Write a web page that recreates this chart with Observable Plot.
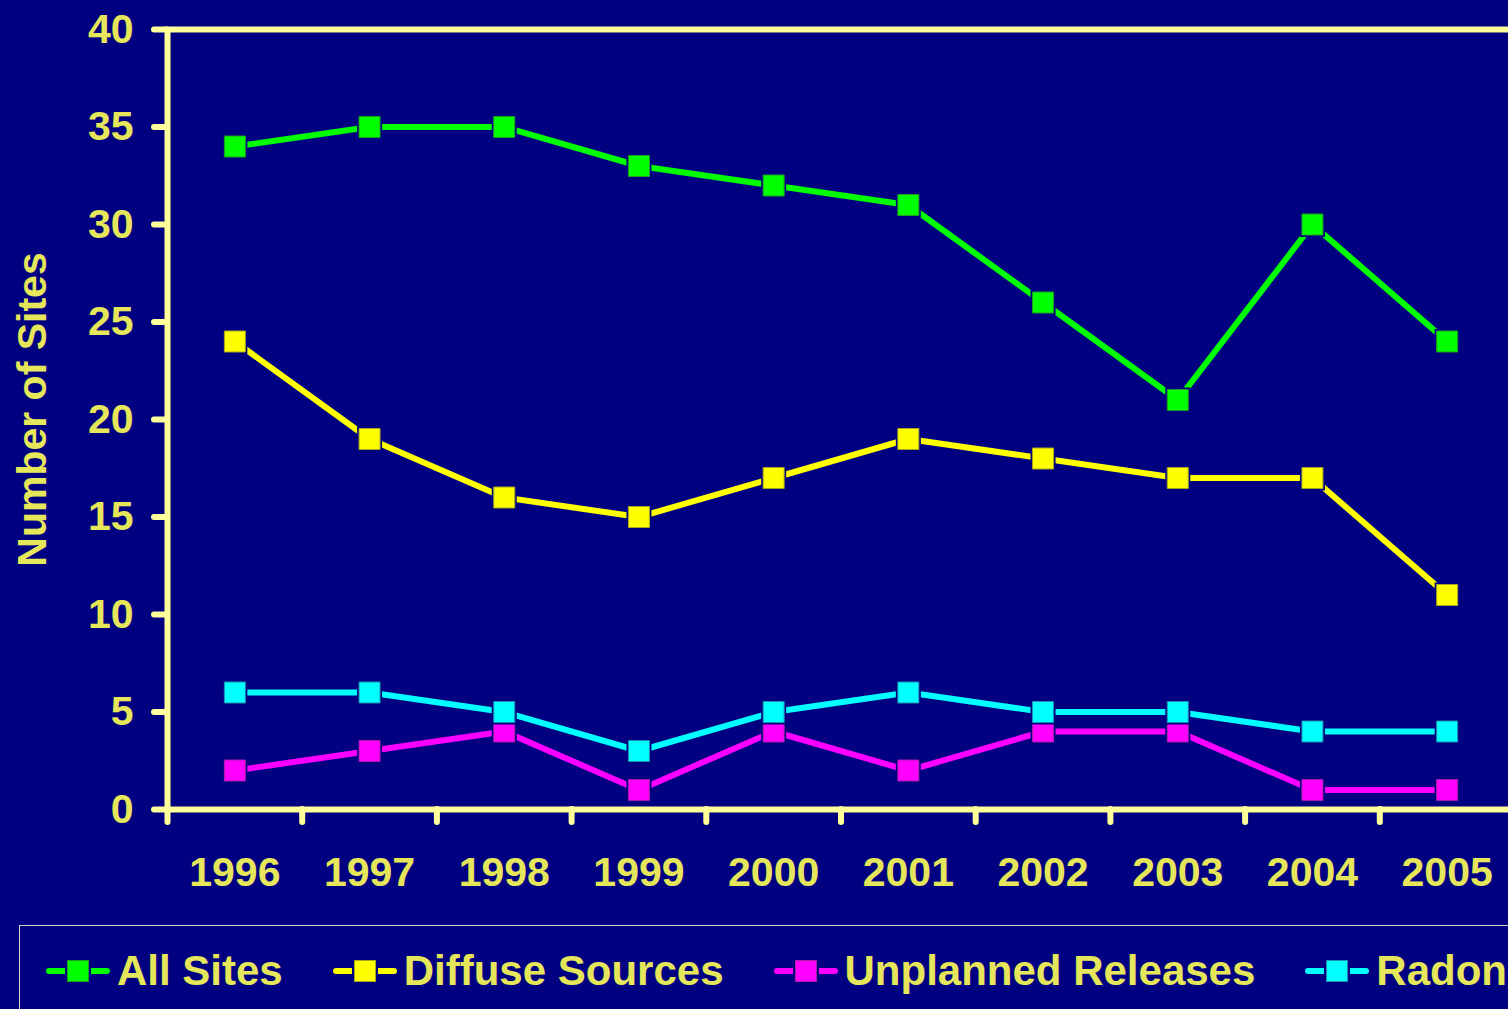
<!DOCTYPE html>
<html>
<head>
<meta charset="utf-8">
<script src="https://cdn.jsdelivr.net/npm/d3@7"></script>
<script src="https://cdn.jsdelivr.net/npm/@observablehq/plot@0.6"></script>
<style>
  html, body { margin: 0; padding: 0; background: #000080; }
  #wrap {
    position: relative; width: 1508px; height: 1009px; overflow: hidden;
    background: #000080; font-family: "Liberation Sans", Arial, sans-serif;
  }
  #chart { position: absolute; left: 0; top: 0; }
  #legend {
    position: absolute; left: 19px; top: 925px; width: 1700px; height: 92px;
    border: 1px solid #d2d2c4; box-sizing: border-box;
    display: flex; align-items: center; gap: 50px; padding-left: 26px;
  }
  .item { display: flex; align-items: center; gap: 7px; white-space: nowrap;
    font-size: 42px; font-weight: bold; color: #e6e65a; line-height: 42px; }
  .item svg { display: block; }
</style>
</head>
<body>
<div id="wrap">
  <div id="chart"></div>
  <div id="legend"></div>
</div>
<script>
// Number of sites per year, by source category
const years = ["1996", "1997", "1998", "1999", "2000", "2001", "2002", "2003", "2004", "2005"];
const allSites = [34, 35, 35, 33, 32, 31, 26, 21, 30, 24];
const diffuseSources = [24, 19, 16, 15, 17, 19, 18, 17, 17, 11];
const unplannedReleases = [2, 3, 4, 1, 4, 2, 4, 4, 1, 1];
const radon = [6, 6, 5, 3, 5, 6, 5, 5, 4, 4];

const seriesNames = ["All Sites", "Diffuse Sources", "Unplanned Releases", "Radon"];
const seriesValues = [allSites, diffuseSources, unplannedReleases, radon];
const seriesColors = ["#00ff00", "#ffff00", "#ff00ff", "#00ffff"];
const seriesEdges = ["#1f9f1f", "#a6a61f", "#a61fa6", "#1f8fb0"];
const yTicks = [0, 5, 10, 15, 20, 25, 30, 35, 40];

const bg = "#000080";
const axisColor = "#ffff99";
const textColor = "#e6e65a";
const font = "'Liberation Sans', Arial, sans-serif";

const series = seriesNames.map((name, i) => ({
  name,
  color: seriesColors[i],
  edge: seriesEdges[i],
  rows: years.map((year, j) => ({ year, value: seriesValues[i][j], series: name }))
}));

const width = 1508;
const marginLeft = 167;
const marginRight = -6;   // plot area runs just past the right edge
const step = (width - marginRight - marginLeft) / years.length;

// square side s  ->  Plot dot radius s / sqrt(pi)
const rOf = (side) => side / Math.sqrt(Math.PI);

const chart = Plot.plot({
  width,
  height: 915,
  marginLeft,
  marginRight,
  marginTop: 29,
  marginBottom: 106,
  style: { background: bg, color: textColor, fontFamily: font, overflow: "visible" },
  x: { type: "band", domain: years, padding: 0, round: false, label: null },
  y: { domain: [0, 40], label: null },
  marks: [
    // tick marks between year categories
    Plot.axisX({ ticks: years, tickSize: 13, fill: "none", dx: -step / 2,
      stroke: axisColor, strokeWidth: 6, strokeLinecap: "round", label: null }),
    // year labels
    Plot.axisX({ tickSize: 0, tickPadding: 47, fontSize: 41, fontWeight: "bold",
      fill: textColor, label: null }),
    Plot.axisY({ ticks: yTicks, tickSize: 13, tickPadding: 21, fontSize: 41, fontWeight: "bold",
      stroke: axisColor, strokeWidth: 6, strokeLinecap: "round", fill: textColor, label: null }),
    Plot.frame({ stroke: axisColor, strokeWidth: 6 }),
    Plot.text(["Number of Sites"], { frameAnchor: "left", textAnchor: "middle", rotate: -90,
      dx: -135, dy: -10, fontSize: 41, fontWeight: "bold", fill: textColor }),
    ...series.flatMap(s => [
      Plot.line(s.rows, { x: "year", y: "value", stroke: s.color, strokeWidth: 6 }),
      Plot.dot(s.rows, { x: "year", y: "value", symbol: "square", r: rOf(25), fill: bg, stroke: "none" }),
      Plot.dot(s.rows, { x: "year", y: "value", symbol: "square", r: rOf(21), fill: s.color,
        stroke: s.edge, strokeWidth: 1 })
    ])
  ]
});
document.getElementById("chart").appendChild(chart);

// legend below the chart
const legend = document.getElementById("legend");
for (const s of series) {
  const item = document.createElement("div");
  item.className = "item";
  item.innerHTML =
    `<svg width="64" height="26" viewBox="0 0 64 26">
       <line x1="3" y1="13" x2="61" y2="13" stroke="${s.color}" stroke-width="6" stroke-linecap="round"/>
       <rect x="19" y="0.5" width="26" height="25" fill="${bg}"/>
       <rect x="21.5" y="2.5" width="21" height="21" fill="${s.color}" stroke="${s.edge}" stroke-width="1"/>
     </svg><span>${s.name}</span>`;
  legend.appendChild(item);
}
</script>
</body>
</html>
